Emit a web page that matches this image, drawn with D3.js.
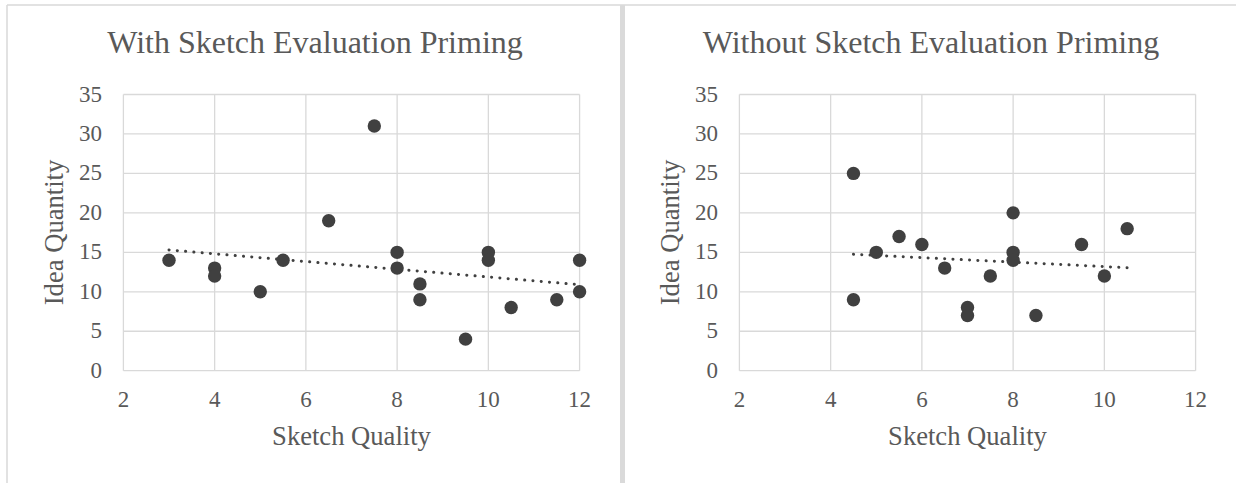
<!DOCTYPE html>
<html>
<head>
<meta charset="utf-8">
<title>Sketch quality vs idea quantity</title>
<script src="https://d3js.org/d3.v7.min.js"></script>
<style>
  body { margin: 0; background: #fff; }
  text { font-family: "Liberation Serif", "Times New Roman", serif; fill: #595959; }
  .title { font-size: 32px; }
  .tick { font-size: 23px; }
  .axtitle { font-size: 26.6px; }
</style>
</head>
<body>
<script>
// with priming
var withX = [3, 4, 4, 5, 5.5, 6.5, 7.5, 8, 8, 8.5, 8.5, 9.5, 10, 10, 10.5, 11.5, 12, 12];
var withY = [14, 13, 12, 10, 14, 19, 31, 15, 13, 11, 9, 4, 15, 14, 8, 9, 14, 10];
var withTrend = [[3, 15.3], [12, 10.9]];

// without priming
var withoutX = [4.5, 4.5, 5, 5.5, 6, 6.5, 7, 7, 7.5, 8, 8, 8, 8.5, 9.5, 10, 10.5];
var withoutY = [25, 9, 15, 17, 16, 13, 8, 7, 12, 20, 15, 14, 7, 16, 12, 18];
var withoutTrend = [[4.5, 14.75], [10.5, 13.05]];

var xTicks = [2, 4, 6, 8, 10, 12];
var yTicks = [0, 5, 10, 15, 20, 25, 30, 35];

var width = 1236, height = 483;
var svg = d3.select("body").append("svg")
    .attr("width", width).attr("height", height);

// panel frames
svg.append("line").attr("x1", 7).attr("x2", width).attr("y1", 5).attr("y2", 5)
    .attr("stroke", "#d9d9d9").attr("stroke-width", 1.5);
svg.append("line").attr("x1", 7).attr("x2", 7).attr("y1", 5).attr("y2", height)
    .attr("stroke", "#d9d9d9").attr("stroke-width", 1.5);
svg.append("rect").attr("x", 620).attr("y", 5).attr("width", 5).attr("height", height)
    .attr("fill", "#dadada");

function scatter(ox, title, xs, ys, trend) {
    var g = svg.append("g").attr("transform", "translate(" + ox + ",0)");
    var x = d3.scaleLinear().domain([2, 12]).range([123.4, 579.6]);
    var y = d3.scaleLinear().domain([0, 35]).range([370.7, 94.5]);

    // grid
    g.selectAll(".gx").data(xTicks).enter().append("line")
        .attr("x1", function(d){ return x(d); }).attr("x2", function(d){ return x(d); })
        .attr("y1", y(0)).attr("y2", y(35))
        .attr("stroke", "#d9d9d9").attr("stroke-width", 1.3);
    g.selectAll(".gy").data(yTicks).enter().append("line")
        .attr("x1", x(2)).attr("x2", x(12))
        .attr("y1", function(d){ return y(d); }).attr("y2", function(d){ return y(d); })
        .attr("stroke", "#d9d9d9").attr("stroke-width", 1.3);

    // tick labels
    g.selectAll(".tx").data(xTicks).enter().append("text").attr("class", "tick")
        .attr("x", function(d){ return x(d); }).attr("y", 407)
        .attr("text-anchor", "middle").text(function(d){ return d; });
    g.selectAll(".ty").data(yTicks).enter().append("text").attr("class", "tick")
        .attr("x", 102).attr("y", function(d){ return y(d) + 7; })
        .attr("text-anchor", "end").text(function(d){ return d; });

    // trendline
    g.append("path")
        .attr("d", d3.line().x(function(d){ return x(d[0]); }).y(function(d){ return y(d[1]); })(trend))
        .attr("fill", "none").attr("stroke", "#404040").attr("stroke-width", 3)
        .attr("stroke-linecap", "round").attr("stroke-dasharray", "0.1,8.2");

    // points
    g.selectAll("circle").data(xs).enter().append("circle")
        .attr("cx", function(d){ return x(d); })
        .attr("cy", function(d, i){ return y(ys[i]); })
        .attr("r", 6.7).attr("fill", "#404040");

    // titles
    g.append("text").attr("class", "title").attr("x", 315).attr("y", 53)
        .attr("text-anchor", "middle").text(title);
    g.append("text").attr("class", "axtitle").attr("x", 351.5).attr("y", 445)
        .attr("text-anchor", "middle").text("Sketch Quality");
    g.append("text").attr("class", "axtitle")
        .attr("transform", "translate(63,232.5) rotate(-90)")
        .attr("text-anchor", "middle").text("Idea Quantity");
}

scatter(0, "With Sketch Evaluation Priming", withX, withY, withTrend);
scatter(616, "Without Sketch Evaluation Priming", withoutX, withoutY, withoutTrend);
</script>
</body>
</html>
